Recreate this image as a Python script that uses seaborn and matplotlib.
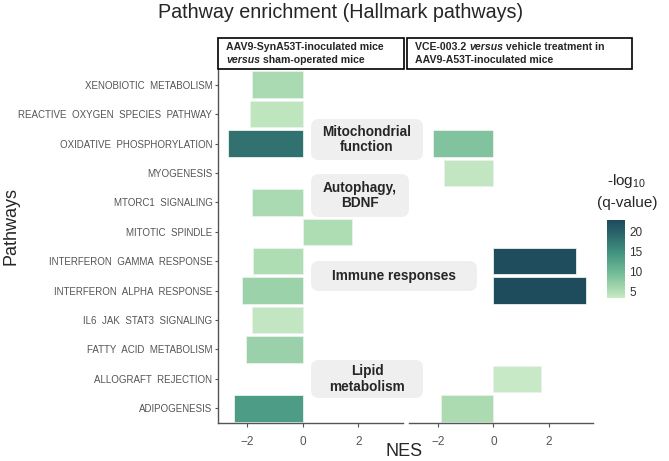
import numpy as np
import pandas as pd
import matplotlib
matplotlib.use("Agg")
import matplotlib.pyplot as plt
import seaborn as sns
from matplotlib.colors import LinearSegmentedColormap, Normalize
from matplotlib.patches import Rectangle, FancyBboxPatch
from matplotlib.colorbar import ColorbarBase

sns.set_style("ticks")
plt.rcParams['font.family'] = ['Liberation Sans', 'DejaVu Sans']
plt.rcParams['mathtext.fontset'] = 'custom'
plt.rcParams['mathtext.rm'] = 'Liberation Sans'

nan = np.nan

# Data
pathways = ["XENOBIOTIC METABOLISM", "REACTIVE OXYGEN SPECIES PATHWAY",
            "OXIDATIVE PHOSPHORYLATION", "MYOGENESIS", "MTORC1 SIGNALING",
            "MITOTIC SPINDLE", "INTERFERON GAMMA RESPONSE",
            "INTERFERON ALPHA RESPONSE", "IL6 JAK STAT3 SIGNALING",
            "FATTY ACID METABOLISM", "ALLOGRAFT REJECTION", "ADIPOGENESIS"]

nes_sham = [-1.82, -1.89, -2.70, nan, -1.82, 1.75, -1.80, -2.20, -1.83, -2.04, nan, -2.47]
q_sham = [5.5, 4.0, 18.0, nan, 5.5, 5.2, 5.2, 6.5, 3.9, 6.6, nan, 13.5]

nes_vce = [nan, nan, -2.18, -1.78, nan, nan, 2.98, 3.35, nan, nan, 1.71, -1.89]
q_vce = [nan, nan, 8.5, 3.8, nan, nan, 22.5, 22.6, nan, nan, 3.5, 5.3]

panel_titles = [
    [[("AAV9-SynA53T-inoculated mice", "normal")],
     [("versus", "italic"), (" sham-operated mice", "normal")]],
    [[("VCE-003.2 ", "normal"), ("versus", "italic"), (" vehicle treatment in", "normal")],
     [("AAV9-A53T-inoculated mice", "normal")]],
]

groups = ["Mitochondrial\nfunction", "Autophagy,\nBDNF", "Immune responses", "Lipid\nmetabolism"]

# colour scale
vmin, vmax = 3.3, 22.8
stops = [(3.3, "#c9eac7"), (5, "#b0ddb4"), (10, "#6db894"), (15, "#3f8f7e"),
         (20, "#285f68"), (22.8, "#1f4b5c")]
cmap = LinearSegmentedColormap.from_list(
    "nes", [((v - vmin) / (vmax - vmin), c) for v, c in stops])
norm = Normalize(vmin, vmax)

W, H = 669, 461
fig = plt.figure(figsize=(W / 100, H / 100), dpi=100)


def fx(px):
    return px / W


def fy(py):
    return 1 - py / H


ax1 = fig.add_axes([fx(218), fy(423), fx(185), (423 - 70) / H])
ax2 = fig.add_axes([fx(409), fy(423), fx(184), (423 - 70) / H])

for ax, nes, q in [(ax1, nes_sham, q_sham), (ax2, nes_vce, q_vce)]:
    df = pd.DataFrame({"pathway": pathways, "NES": nes, "q": q}).dropna()
    pal = {p: cmap(norm(v)) for p, v in zip(df["pathway"], df["q"])}
    sns.barplot(data=df, x="NES", y="pathway", order=pathways, hue="pathway",
                palette=pal, saturation=1, legend=False, width=0.9, errorbar=None,
                edgecolor="#e8f3ea", linewidth=0.6, ax=ax)
    ax.set_xlim(-3.05, 3.6)
    ax.set_ylim(11.5, -0.5)
    ax.set_xticks([-2, 0, 2])
    ax.set_xlabel("")
    ax.set_ylabel("")
    ax.tick_params(axis="x", labelsize=8.5, labelcolor="#555555", color="#555555",
                   length=3, width=0.8, pad=6)
    for s in ["top", "right"]:
        ax.spines[s].set_visible(False)
    ax.spines["bottom"].set_color("#555555")
    ax.spines["bottom"].set_linewidth(1.0)

ax1.spines["left"].set_color("#555555")
ax1.spines["left"].set_linewidth(1.0)
ax1.set_yticks(range(len(pathways)))
ax1.set_yticklabels([p.replace(" ", "  ") for p in pathways])
ax1.tick_params(axis="y", labelsize=7, labelcolor="#555555", color="#555555",
                length=2.5, width=0.8, pad=1.5)
ax2.spines["left"].set_visible(False)
ax2.set_yticks([])

fig.text(fx(404), fy(451), "NES", ha="center", va="center", fontsize=13)
fig.text(fx(11), fy(226), "Pathways", ha="center", va="center", fontsize=13,
         rotation=90)
fig.text(fx(341), fy(13), "Pathway enrichment (Hallmark pathways)", ha="center",
         va="center", fontsize=14.2)

# strip header boxes
for (x0, x1) in [(218, 404), (407, 632)]:
    fig.patches.append(Rectangle((fx(x0), fy(69)), fx(x1 - x0), (69 - 38) / H,
                                 transform=fig.transFigure, fill=False,
                                 edgecolor="black", linewidth=1.2))

renderer = fig.canvas.get_renderer()


def rich_line(x, y, parts):
    for txt, style in parts:
        t = fig.text(fx(x), fy(y), txt, ha="left", va="center", fontsize=7.6,
                     fontweight="bold", fontstyle=style)
        x += t.get_window_extent(renderer=renderer).width


for (x0, lines) in zip([226, 415], panel_titles):
    rich_line(x0, 47, lines[0])
    rich_line(x0, 60, lines[1])

# group annotation boxes (pixel boxes)
boxes = [(311, 119, 423, 160), (311, 174, 409, 217), (311, 261, 477, 291),
         (311, 360, 423, 398)]
for label, (x0, y0, x1, y1) in zip(groups, boxes):
    fig.patches.append(FancyBboxPatch((fx(x0), fy(y1)), fx(x1 - x0),
                                      (y1 - y0) / H,
                                      boxstyle="round,pad=0,rounding_size=0.012",
                                      transform=fig.transFigure,
                                      facecolor="#efefef", edgecolor="none",
                                      mutation_aspect=W / H, zorder=3))
    fig.text(fx((x0 + x1) / 2), fy((y0 + y1) / 2), label, ha="center", va="center",
             fontsize=9.8, fontweight="bold", linespacing=1.15, zorder=4)

# colourbar
cax = fig.add_axes([fx(607), fy(298), fx(18), 78 / H])
cb = ColorbarBase(cax, cmap=cmap, norm=norm, ticks=[5, 10, 15, 20])
cb.outline.set_visible(False)
cax.tick_params(length=4, color="white", direction="in", width=0.8,
                labelsize=8.5, labelcolor="#333333", pad=3)
fig.text(fx(627), fy(181), r"-log$_{10}$", ha="center", va="center", fontsize=11)
fig.text(fx(627), fy(203), "(q-value)", ha="center", va="center", fontsize=11)

fig.savefig("out.png", dpi=100)
